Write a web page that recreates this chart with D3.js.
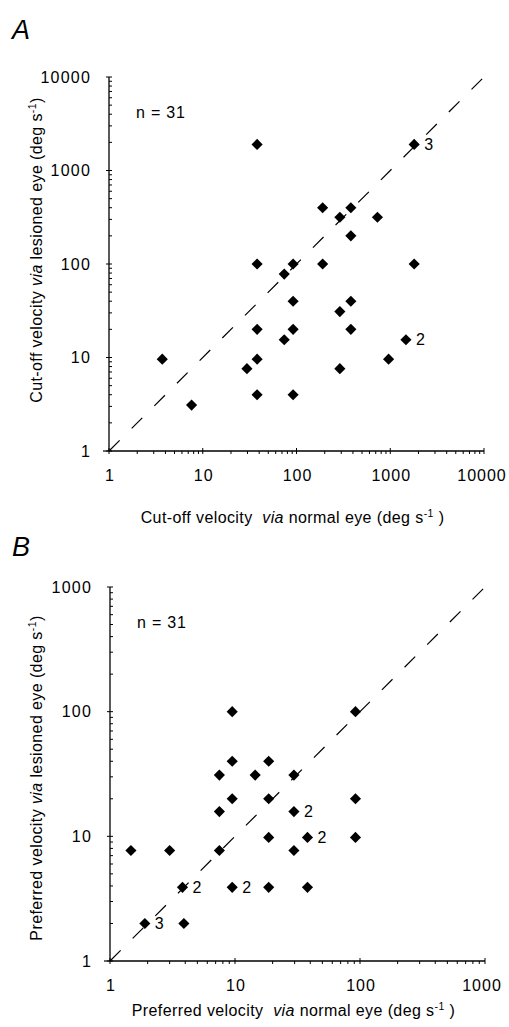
<!DOCTYPE html>
<html>
<head>
<meta charset="utf-8">
<script src="https://cdn.jsdelivr.net/npm/d3@7"></script>
<style>
  html, body { margin: 0; padding: 0; background: #fff; }
  svg { display: block; font-family: "Liberation Sans", Arial, Helvetica, sans-serif; }
</style>
</head>
<body>
<script>
// ---- Data ----
// Panel A: cut-off velocity
const cutNormal   = [38, 1800, 190, 380, 290, 730, 380, 38, 92, 190, 1800, 74, 92, 380, 290, 38, 92, 380, 74, 1470, 3.7, 38, 29.6, 290, 960, 38, 92, 7.6];
const cutLesioned = [1900, 1900, 400, 400, 316, 316, 200, 100, 100, 100, 100, 78, 40, 40, 31, 20, 20, 20, 15.5, 15.5, 9.6, 9.6, 7.6, 7.6, 9.6, 4, 4, 3.1];
const cutCounts   = ["", "3", "", "", "", "", "", "", "", "", "", "", "", "", "", "", "", "", "", "2", "", "", "", "", "", "", "", ""];
const cutTicks    = [1, 10, 100, 1000, 10000];

// Panel B: preferred velocity
const prefNormal   = [9.5, 92, 9.5, 18.6, 7.5, 14.5, 29.6, 9.5, 18.6, 92, 7.5, 29.6, 18.6, 38, 92, 1.47, 3, 7.5, 29.6, 3.8, 9.5, 18.6, 38, 1.9, 3.9];
const prefLesioned = [100, 100, 40, 40, 31, 31, 31, 20, 20, 20, 15.8, 15.8, 9.8, 9.8, 9.8, 7.7, 7.7, 7.7, 7.7, 3.9, 3.9, 3.9, 3.9, 2, 2];
const prefCounts   = ["", "", "", "", "", "", "", "", "", "", "", "2", "", "2", "", "", "", "", "", "2", "2", "", "", "3", ""];
const prefTicks    = [1, 10, 100, 1000];

const nLabel = "n = 31";

const W = 509, H = 1027;
const svg = d3.select("body").append("svg").attr("width", W).attr("height", H);

function panel(cfg) {
  const x = d3.scaleLog().domain(cfg.domain).range([cfg.left, cfg.right]);
  const y = d3.scaleLog().domain(cfg.domain).range([cfg.bottom, cfg.top]);
  const g = svg.append("g");

  // panel letter
  g.append("text").attr("x", 12).attr("y", cfg.letterY)
    .attr("font-size", 27).attr("font-style", "italic").text(cfg.letter);

  // identity dashed line
  g.append("line")
    .attr("x1", x(cfg.domain[0])).attr("y1", y(cfg.domain[0]))
    .attr("x2", x(cfg.domain[1])).attr("y2", y(cfg.domain[1]))
    .attr("stroke", "#000").attr("stroke-width", 1.2)
    .attr("stroke-dasharray", "15,17");

  // axes lines
  g.append("line").attr("x1", cfg.left).attr("x2", cfg.right)
    .attr("y1", cfg.bottom).attr("y2", cfg.bottom).attr("stroke", "#000").attr("stroke-width", 1.3);
  g.append("line").attr("x1", cfg.left).attr("x2", cfg.left)
    .attr("y1", cfg.top).attr("y2", cfg.bottom).attr("stroke", "#000").attr("stroke-width", 1.3);

  const allTicks = x.ticks();
  const isMajor = v => Math.abs(Math.log10(v) - Math.round(Math.log10(v))) < 1e-9;

  // x ticks (pointing down)
  g.selectAll(null).data(allTicks).join("line")
    .attr("x1", d => x(d)).attr("x2", d => x(d))
    .attr("y1", d => cfg.bottom - (isMajor(d) ? 3 : 0))
    .attr("y2", d => cfg.bottom + 3)
    .attr("stroke", "#000").attr("stroke-width", 1);
  // y ticks (pointing right)
  g.selectAll(null).data(allTicks).join("line")
    .attr("y1", d => y(d)).attr("y2", d => y(d))
    .attr("x1", d => cfg.left - (isMajor(d) ? 3 : 0))
    .attr("x2", d => cfg.left + 3)
    .attr("stroke", "#000").attr("stroke-width", 1);
  // origin outward tick
  g.append("line").attr("x1", cfg.left - 6).attr("x2", cfg.left)
    .attr("y1", cfg.bottom).attr("y2", cfg.bottom).attr("stroke", "#000").attr("stroke-width", 1.2);

  // tick labels
  g.selectAll(null).data(cfg.ticks).join("text")
    .attr("x", d => Math.min(x(d) + 1, W - 27)).attr("y", cfg.bottom + 30)
    .attr("text-anchor", "middle").attr("font-size", 16).attr("letter-spacing", 1).text(d => d);
  g.selectAll(null).data(cfg.ticks).join("text")
    .attr("x", cfg.left - 18).attr("y", d => y(d) + 5.5)
    .attr("text-anchor", "end").attr("font-size", 16).attr("letter-spacing", 1.2).text(d => d);

  // n label
  g.append("text").attr("x", cfg.left + 27).attr("y", cfg.top + 41)
    .attr("font-size", 16).attr("letter-spacing", 0.8).text(nLabel);

  // points
  const sym = d3.symbol().type(d3.symbolSquare).size(62);
  const pts = cfg.xs.map((v, i) => ({ xv: v, yv: cfg.ys[i], c: cfg.counts[i] }));
  g.selectAll(null).data(pts).join("path")
    .attr("d", sym)
    .attr("transform", d => `translate(${x(d.xv)},${y(d.yv)}) rotate(45)`)
    .attr("fill", "#000");
  g.selectAll(null).data(pts.filter(d => d.c)).join("text")
    .attr("x", d => x(d.xv) + 10).attr("y", d => y(d.yv) + 5.5)
    .attr("font-size", 16).text(d => d.c);

  // x title
  const xt = g.append("text").attr("x", (cfg.left + cfg.right) / 2 - 4).attr("y", cfg.xTitleY)
    .attr("text-anchor", "middle").attr("font-size", 16).attr("letter-spacing", 0.4);
  xt.append("tspan").text(cfg.xTitle[0] + "\u00a0");
  xt.append("tspan").attr("font-style", "italic").text("via");
  xt.append("tspan").text(" normal eye (deg s");
  xt.append("tspan").attr("font-size", 10.5).attr("dy", -6).text("-1");
  xt.append("tspan").attr("dy", 6).text(" )");

  // y title
  const cy = cfg.yTitleY;
  const yt = g.append("text").attr("transform", `translate(${cfg.yTitleX},${cy}) rotate(-90)`)
    .attr("text-anchor", "middle").attr("font-size", 16).attr("letter-spacing", 0.4);
  yt.append("tspan").text(cfg.xTitle[0] + " ");
  yt.append("tspan").attr("font-style", "italic").text("via");
  yt.append("tspan").text(" lesioned eye (deg s");
  yt.append("tspan").attr("font-size", 10.5).attr("dy", -6).text("-1");
  yt.append("tspan").attr("dy", 6).text(")");
}

panel({
  letter: "A", letterY: 39,
  domain: [1, 10000], ticks: cutTicks,
  left: 109, right: 484, top: 77, bottom: 451,
  xs: cutNormal, ys: cutLesioned, counts: cutCounts,
  xTitle: ["Cut-off velocity "], xTitleY: 523, yTitleX: 42, yTitleY: 250
});

panel({
  letter: "B", letterY: 556,
  domain: [1, 1000], ticks: prefTicks,
  left: 110, right: 485, top: 587, bottom: 961,
  xs: prefNormal, ys: prefLesioned, counts: prefCounts,
  xTitle: ["Preferred velocity "], xTitleY: 1016, yTitleX: 42, yTitleY: 778
});
</script>
</body>
</html>
